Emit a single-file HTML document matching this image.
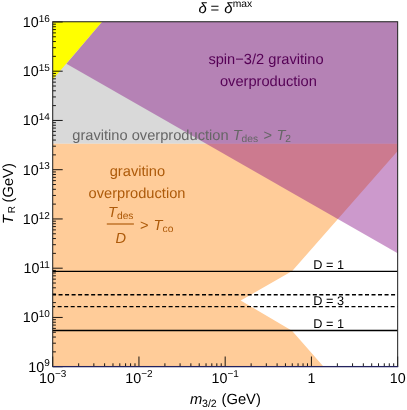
<!DOCTYPE html>
<html><head><meta charset="utf-8"><title>plot</title>
<style>html,body{margin:0;padding:0;background:#fff;}svg{display:block;will-change:transform;}text{font-family:"Liberation Sans",sans-serif;text-rendering:geometricPrecision;}</style>
</head><body>
<svg width="407" height="410" viewBox="0 0 407 410">
<rect x="0" y="0" width="407" height="410" fill="#ffffff"/>
<rect x="52.7" y="21.75" width="344.95" height="122.05" fill="#D9D9D9"/>
<polygon fill="#FFCC99" points="52.7,143.8 397.65,143.8 397.65,150.9 292.2,271.1 240.7,300.5 292.0,330.7 323.4,366.5 52.7,366.5"/>
<polygon fill="#800080" fill-opacity="0.4" points="102,21.75 397.65,21.75 397.65,253.3 66.4,63.7"/>
<polygon fill="#FFFF00" points="52.7,21.75 102,21.75 52.7,79.5"/>
<g stroke="#000" stroke-width="1.3" fill="none">
<line x1="52.7" y1="271.3" x2="397.65" y2="271.3"/>
<line x1="52.7" y1="330.5" x2="397.65" y2="330.5"/>
<line x1="52.7" y1="294.7" x2="397.65" y2="294.7" stroke-dasharray="4 2.52" stroke-dashoffset="0.66" stroke-width="1.4"/>
<line x1="52.7" y1="306.6" x2="397.65" y2="306.6" stroke-dasharray="4 2.53" stroke-dashoffset="1.6" stroke-width="1.4"/>
</g>
<path d="M52.7 366.70h10M52.7 351.87h3.2M52.7 343.20h3.2M52.7 337.05h3.2M52.7 332.28h3.2M52.7 328.38h3.2M52.7 325.08h3.2M52.7 322.22h3.2M52.7 319.70h3.2M52.7 317.45h10M52.7 302.62h3.2M52.7 293.95h3.2M52.7 287.80h3.2M52.7 283.03h3.2M52.7 279.13h3.2M52.7 275.83h3.2M52.7 272.97h3.2M52.7 270.45h3.2M52.7 268.20h10M52.7 253.37h3.2M52.7 244.70h3.2M52.7 238.55h3.2M52.7 233.78h3.2M52.7 229.88h3.2M52.7 226.58h3.2M52.7 223.72h3.2M52.7 221.20h3.2M52.7 218.95h10M52.7 204.12h3.2M52.7 195.45h3.2M52.7 189.30h3.2M52.7 184.53h3.2M52.7 180.63h3.2M52.7 177.33h3.2M52.7 174.47h3.2M52.7 171.95h3.2M52.7 169.70h10M52.7 154.87h3.2M52.7 146.20h3.2M52.7 140.05h3.2M52.7 135.28h3.2M52.7 131.38h3.2M52.7 128.08h3.2M52.7 125.22h3.2M52.7 122.70h3.2M52.7 120.45h10M52.7 105.62h3.2M52.7 96.95h3.2M52.7 90.80h3.2M52.7 86.03h3.2M52.7 82.13h3.2M52.7 78.83h3.2M52.7 75.97h3.2M52.7 73.45h3.2M52.7 71.20h10M52.7 56.37h3.2M52.7 47.70h3.2M52.7 41.55h3.2M52.7 36.78h3.2M52.7 32.88h3.2M52.7 29.58h3.2M52.7 26.72h3.2M52.7 24.20h3.2M52.7 21.95h10M52.70 366.5v-10M78.66 366.5v-3.2M93.85 366.5v-3.2M104.62 366.5v-3.2M112.98 366.5v-3.2M119.81 366.5v-3.2M125.58 366.5v-3.2M130.58 366.5v-3.2M134.99 366.5v-3.2M138.94 366.5v-10M164.90 366.5v-3.2M180.08 366.5v-3.2M190.86 366.5v-3.2M199.21 366.5v-3.2M206.04 366.5v-3.2M211.82 366.5v-3.2M216.82 366.5v-3.2M221.23 366.5v-3.2M225.18 366.5v-10M251.14 366.5v-3.2M266.32 366.5v-3.2M277.10 366.5v-3.2M285.45 366.5v-3.2M292.28 366.5v-3.2M298.05 366.5v-3.2M303.06 366.5v-3.2M307.47 366.5v-3.2M311.41 366.5v-10M337.37 366.5v-3.2M352.56 366.5v-3.2M363.33 366.5v-3.2M371.69 366.5v-3.2M378.52 366.5v-3.2M384.29 366.5v-3.2M389.29 366.5v-3.2M393.70 366.5v-3.2M397.65 366.5v-10" stroke="#000" stroke-width="0.9" fill="none"/>
<rect x="52.7" y="21.75" width="344.95" height="344.75" fill="none" stroke="#262626" stroke-width="1.05"/>
<line x1="52.7" y1="366.5" x2="398.15" y2="366.5" stroke="#23235f" stroke-width="1.25"/>
<text x="49.8" y="371.70" text-anchor="end" font-size="14.3" fill="#000">10<tspan font-size="10" dy="-5.4">9</tspan></text>
<text x="49.8" y="322.45" text-anchor="end" font-size="14.3" fill="#000">10<tspan font-size="10" dy="-5.4">10</tspan></text>
<text x="49.8" y="273.20" text-anchor="end" font-size="14.3" fill="#000">10<tspan font-size="10" dy="-5.4">11</tspan></text>
<text x="49.8" y="223.95" text-anchor="end" font-size="14.3" fill="#000">10<tspan font-size="10" dy="-5.4">12</tspan></text>
<text x="49.8" y="174.70" text-anchor="end" font-size="14.3" fill="#000">10<tspan font-size="10" dy="-5.4">13</tspan></text>
<text x="49.8" y="125.45" text-anchor="end" font-size="14.3" fill="#000">10<tspan font-size="10" dy="-5.4">14</tspan></text>
<text x="49.8" y="76.20" text-anchor="end" font-size="14.3" fill="#000">10<tspan font-size="10" dy="-5.4">15</tspan></text>
<text x="49.8" y="26.95" text-anchor="end" font-size="14.3" fill="#000">10<tspan font-size="10" dy="-5.4">16</tspan></text>
<text x="52.70" y="383.3" text-anchor="middle" font-size="14.3" fill="#000">10<tspan font-size="10" dy="-6.4">−3</tspan></text>
<text x="138.94" y="383.3" text-anchor="middle" font-size="14.3" fill="#000">10<tspan font-size="10" dy="-6.4">−2</tspan></text>
<text x="225.18" y="383.3" text-anchor="middle" font-size="14.3" fill="#000">10<tspan font-size="10" dy="-6.4">−1</tspan></text>
<text x="311.41" y="383.3" text-anchor="middle" font-size="14.3" fill="#000">1</text>
<text x="397.65" y="383.3" text-anchor="middle" font-size="14.3" fill="#000">10</text>
<text y="12.8" font-size="14.9" fill="#000"><tspan x="198.6" font-style="italic">δ</tspan><tspan x="210.5">=</tspan><tspan x="224.3" font-style="italic">δ</tspan><tspan x="232.7" font-size="10.3" dy="-6.3">max</tspan></text>
<text y="404.3" font-size="14.75" fill="#000"><tspan x="190.0" font-style="italic">m</tspan><tspan x="202.0" font-size="10.6" dy="2.5">3/2</tspan><tspan x="221.5" dy="-2.5">(GeV)</tspan></text>
<text transform="translate(12.9 223.9) rotate(-90)" font-size="14.75" fill="#000"><tspan x="0" font-style="italic">T</tspan><tspan x="10.6" font-size="10.1" dy="2.5">R</tspan><tspan x="21.4" dy="-2.5">(GeV)</tspan></text>
<text x="266" y="64.2" text-anchor="middle" font-size="14.65" fill="#550055">spin−3/2 gravitino</text>
<text x="268.4" y="85.8" text-anchor="middle" font-size="14.65" fill="#550055">overproduction</text>
<text x="72.3" y="139.6" font-size="14.65" fill="#666">gravitino overproduction <tspan font-style="italic">T</tspan><tspan font-size="10.25" dy="2">des</tspan><tspan dy="-2" dx="5.3">&gt;</tspan><tspan font-style="italic" dx="4.4">T</tspan><tspan font-size="10.25" dy="2">2</tspan></text>
<text x="137.4" y="175.9" text-anchor="middle" font-size="14.65" fill="#AD5A0A">gravitino</text>
<text x="137.0" y="198.2" text-anchor="middle" font-size="14.65" fill="#AD5A0A">overproduction</text>
<text x="108" y="216.7" font-size="14.65" fill="#AD5A0A"><tspan font-style="italic">T</tspan><tspan font-size="10.25" dy="2.5">des</tspan></text>
<line x1="106.8" y1="224.0" x2="133.9" y2="224.0" stroke="#AD5A0A" stroke-width="1.15"/>
<text x="120.7" y="243.1" text-anchor="middle" font-size="14.65" font-style="italic" fill="#AD5A0A">D</text>
<text y="229.9" font-size="14.65" fill="#AD5A0A"><tspan x="140.0" dy="0.3">&gt;</tspan><tspan x="153.6" dy="-0.3" font-style="italic">T</tspan><tspan font-size="10.25" dy="2.3">co</tspan></text>
<text x="313.3" y="268.5" font-size="12.7" fill="#000">D = 1</text>
<text x="313.3" y="305.4" font-size="12.7" fill="#000">D = 3</text>
<text x="313.3" y="327.8" font-size="12.7" fill="#000">D = 1</text>
</svg>
</body></html>
